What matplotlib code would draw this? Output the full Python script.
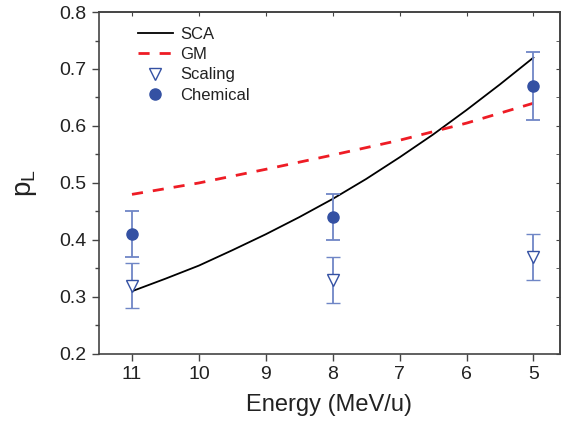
import matplotlib
matplotlib.use("Agg")
import matplotlib.pyplot as plt
import numpy as np
from matplotlib.ticker import MultipleLocator

plt.rcParams['font.family'] = ['Liberation Sans', 'DejaVu Sans']

# Data
sca_energy = [11, 10.5, 10, 9.5, 9, 8.5, 8, 7.5, 7, 6.5, 6, 5.5, 5]
sca_pl = [0.31, 0.332, 0.355, 0.382, 0.41, 0.44, 0.472, 0.507, 0.545, 0.585, 0.628, 0.673, 0.72]
gm_energy = [11, 10, 9, 8, 7, 6, 5]
gm_pl = [0.48, 0.50, 0.524, 0.549, 0.575, 0.605, 0.64]
exp_energy = [11, 8, 5]
scaling_pl = [0.32, 0.33, 0.37]
scaling_err = [0.04, 0.04, 0.04]
chemical_pl = [0.41, 0.44, 0.67]
chemical_err = [0.04, 0.04, 0.06]

fig = plt.figure(figsize=(5.63, 4.29), dpi=100)
ax = fig.add_axes([0.175, 0.175, 0.82, 0.797])

blue = '#3451a3'
errblue = '#6f86c6'

l1, = ax.plot(sca_energy, sca_pl, color='black', lw=1.3, label='SCA')
l2, = ax.plot(gm_energy, gm_pl, color='#ee1c25', lw=2, ls=(0, (4, 3.6)), label='GM')
eb1 = ax.errorbar(exp_energy, scaling_pl, yerr=scaling_err, fmt='v', mfc='white',
                  mec=blue, mew=1.0, ms=9, ecolor=errblue, elinewidth=1.3, capsize=5,
                  capthick=1.3, label='Scaling')
eb2 = ax.errorbar(exp_energy, chemical_pl, yerr=chemical_err, fmt='o', mfc=blue,
                  mec=blue, ms=8, ecolor=errblue, elinewidth=1.3, capsize=5,
                  capthick=1.3, label='Chemical')

ax.set_xlim(11.5, 4.6)
ax.set_ylim(0.2, 0.8)
ax.set_xticks([11, 10, 9, 8, 7, 6, 5])
ax.set_yticks([0.2, 0.3, 0.4, 0.5, 0.6, 0.7, 0.8])
ax.yaxis.set_minor_locator(MultipleLocator(0.05))
ax.set_yticklabels(['0.2', '0.3', '0.4', '0.5', '0.6', '0.7', '0.8'])

ax.tick_params(axis='both', which='major', direction='out', length=5, width=1,
               labelsize=14, color='#444444', labelcolor='#222222')
ax.tick_params(axis='y', which='minor', direction='out', length=3, width=1, color='#444444')

# top and right inward ticks
axt = ax.secondary_xaxis('top')
axt.set_xticks([11, 10, 9, 8, 7, 6, 5])
axt.tick_params(direction='in', length=3, labeltop=False, color='#444444')
axr = ax.secondary_yaxis('right')
axr.set_yticks([0.2, 0.3, 0.4, 0.5, 0.6, 0.7, 0.8])
axr.yaxis.set_minor_locator(MultipleLocator(0.05))
axr.tick_params(which='both', direction='in', length=3, labelright=False, color='#444444')

for s in ax.spines.values():
    s.set_color('#444444')
    s.set_linewidth(1.2)
for a in (axt, axr):
    for s in a.spines.values():
        s.set_color('#444444')
        s.set_linewidth(1.2)

ax.set_xlabel('Energy (MeV/u)', fontsize=17, color='#222222', labelpad=8)
ax.set_ylabel(r'p$_{\mathregular{L}}$', fontsize=20, color='#222222', labelpad=15)

leg = ax.legend(handles=[l1, l2, eb1[0], eb2[0]],
                labels=['SCA', 'GM', 'Scaling', 'Chemical'],
                loc='upper left', bbox_to_anchor=(0.085, 0.957), frameon=False,
                fontsize=12, handlelength=2.1, labelspacing=0.32,
                borderaxespad=0, borderpad=0, handletextpad=0.45)
for t in leg.get_texts():
    t.set_color('#222222')

fig.savefig('out.png', dpi=100)
